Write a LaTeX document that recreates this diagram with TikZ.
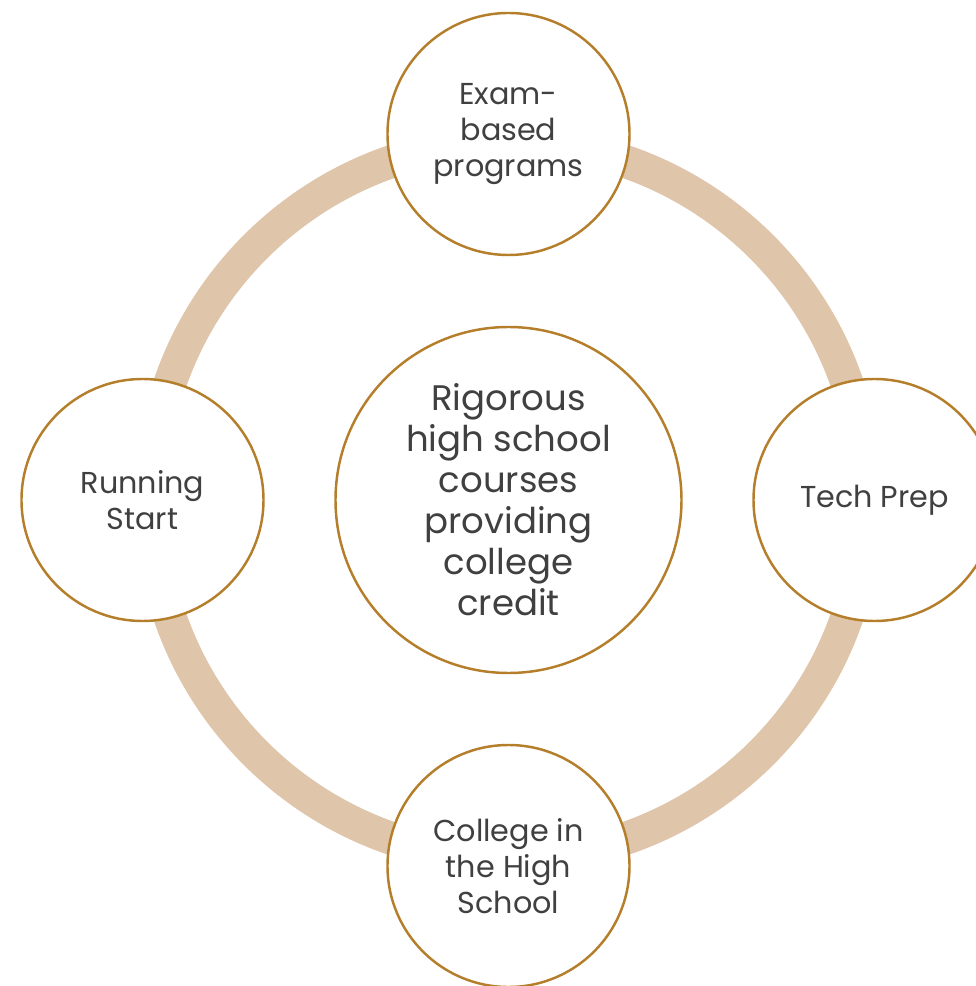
\documentclass[tikz,border=0pt]{standalone}
\usepackage{fontspec}
\setmainfont{Poppins}
\usepackage{tikz}
\usetikzlibrary{calc}
\definecolor{ringtan}{HTML}{DFC5AA}
\definecolor{rimgold}{HTML}{B47E2B}
\definecolor{inkgray}{HTML}{404040}
\tikzset{
  topic/.style={circle,draw=rimgold,fill=white,line width=1.4pt,minimum size=4.84cm,inner sep=0pt,
    align=center,text=inkgray,font=\fontsize{17.2}{20.3}\selectfont},
  hub/.style={topic,minimum size=6.92cm,font=\fontsize{20.2}{23.3}\selectfont}
}
\def\orbit{7.32}
\def\ringradius{7.16}

\begin{document}
\begin{tikzpicture}
% 範囲設定
\useasboundingbox (-10.17,-9.72) rectangle (9.35,10.0);
\coordinate (O) at (0,0);
% 輪の描画
\draw[ringtan, line width=0.66cm] (O) circle [radius=\ringradius];
% 円の描画
\node[hub] (core) at (O) {Rigorous\\high school\\courses\\providing\\college\\credit};
\node[topic] (exam) at (90:\orbit) {Exam-\\based\\programs};
\node[topic] (tech) at (0:\orbit) {Tech Prep};
\node[topic] (chs) at (270:\orbit) {College in\\the High\\School};
\node[topic] (rs) at (180:\orbit) {Running\\Start};
\end{tikzpicture}
\end{document}
